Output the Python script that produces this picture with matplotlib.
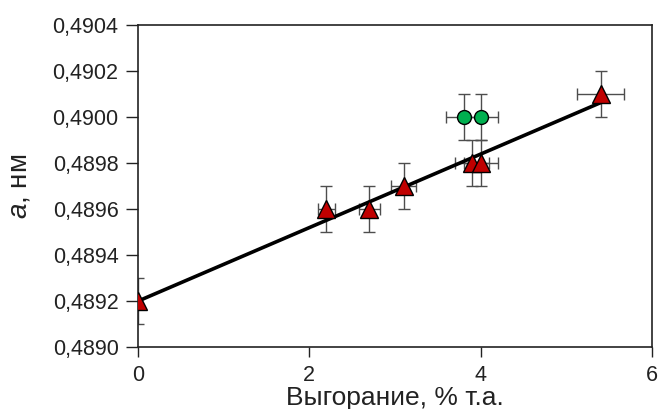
import matplotlib
matplotlib.use("Agg")
import matplotlib.pyplot as plt
import numpy as np

plt.rcParams['font.family'] = ['Liberation Sans', 'DejaVu Sans']
plt.rcParams['mathtext.fontset'] = 'custom'
plt.rcParams['mathtext.it'] = 'Liberation Sans:italic'
plt.rcParams['mathtext.rm'] = 'Liberation Sans'

# burnup (% FIMA) vs lattice parameter a (nm)
burnup = [0.0, 2.2, 2.7, 3.1, 3.9, 4.0, 5.4]
lattice = [0.4892, 0.4896, 0.4896, 0.4897, 0.4898, 0.4898, 0.4901]
burnup_err = [0.0, 0.1, 0.12, 0.15, 0.2, 0.2, 0.27]
lattice_err = [0.0001, 0.0001, 0.0001, 0.0001, 0.0001, 0.0001, 0.0001]

# separate samples off the trend
burnup_off = [3.8, 4.0]
lattice_off = [0.4900, 0.4900]
burnup_off_err = [0.2, 0.2]
lattice_off_err = [0.0001, 0.0001]

x_ticks = [0, 2, 4, 6]
y_ticks = [0.4890, 0.4892, 0.4894, 0.4896, 0.4898, 0.4900, 0.4902, 0.4904]

fig = plt.figure(figsize=(6.58, 4.09), dpi=100)
ax = fig.add_axes([0.2097, 0.1516, 0.7812, 0.7873])

err_kw = dict(fmt='none', ecolor='#4d4d4d', elinewidth=1.0, capsize=4, capthick=1.0, zorder=2)
ax.errorbar(burnup, lattice, xerr=burnup_err, yerr=lattice_err, **err_kw)
ax.errorbar(burnup_off, lattice_off, xerr=burnup_off_err, yerr=lattice_off_err, **err_kw)

coef = np.polyfit(burnup, lattice, 1)
xs = np.array([min(burnup), max(burnup)])
ax.plot(xs, np.polyval(coef, xs), color='black', lw=2.6, zorder=3, solid_capstyle='butt')

ax.plot(burnup, lattice, linestyle='none', marker='^', markersize=13,
        markerfacecolor='#c00000', markeredgecolor='black', markeredgewidth=1.0, zorder=4)
ax.plot(burnup_off, lattice_off, linestyle='none', marker='o', markersize=10,
        markerfacecolor='#00b050', markeredgecolor='black', markeredgewidth=1.0, zorder=4)

ax.set_xlim(0, 6)
ax.set_ylim(0.4890, 0.4904)
ax.set_xticks(x_ticks)
ax.set_xticklabels([str(t) for t in x_ticks])
ax.set_yticks(y_ticks)
ax.set_yticklabels([f"{t:.4f}".replace('.', ',') for t in y_ticks])
ax.tick_params(direction='out', width=1.0, labelsize=15.5, colors='#222222',
               top=False, right=False)
ax.tick_params(axis='x', length=7, pad=6)
ax.tick_params(axis='y', length=9, pad=5)
for s in ax.spines.values():
    s.set_linewidth(1.2)
    s.set_color('#222222')

ax.set_xlabel('Выгорание, % т.а.', fontsize=19, color='#222222', labelpad=0)
ax.set_ylabel(r'$\it{a}$, нм', fontsize=20, color='#222222', labelpad=14)

fig.savefig('out.png', dpi=100)
